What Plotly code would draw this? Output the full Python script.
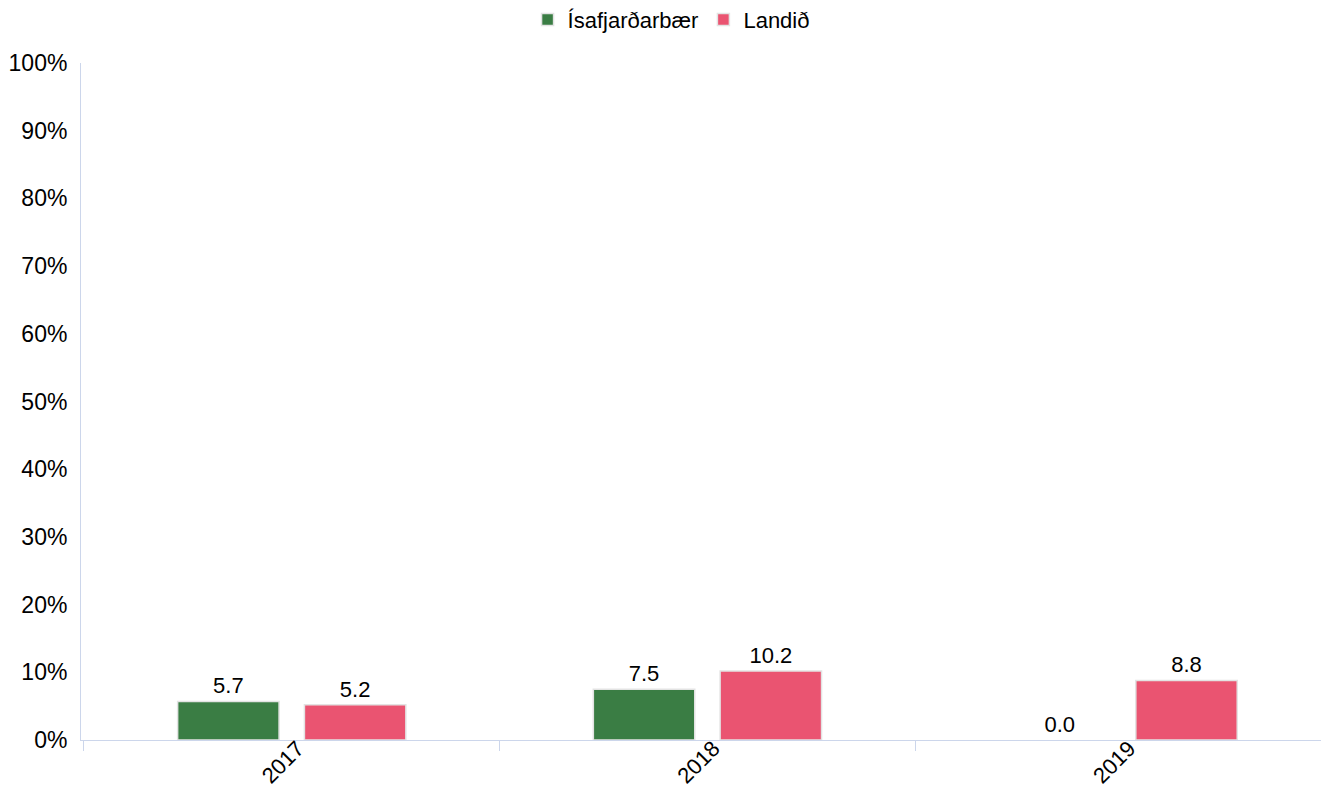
import plotly.graph_objects as go

years = ["2017", "2018", "2019"]
isafjordur = [5.7, 7.5, 0.0]
landid = [5.2, 10.2, 8.8]
y_ticks = [0, 10, 20, 30, 40, 50, 60, 70, 80, 90, 100]
y_tick_labels = [f"{v}%" for v in y_ticks]

font_family = "Liberation Sans, Arial, sans-serif"


def border_widths(values):
    return [1.5 if v > 0 else 0 for v in values]


fig = go.Figure()
fig.add_trace(go.Bar(
    name="Ísafjarðarbær", x=years, y=isafjordur,
    marker=dict(color="#3a7d44", line=dict(color="#e3e3e3", width=border_widths(isafjordur))),
    text=[f"{v:.1f}" for v in isafjordur], textposition="outside",
    textfont=dict(size=22, color="#000000"), cliponaxis=False,
))
fig.add_trace(go.Bar(
    name="Landið", x=years, y=landid,
    marker=dict(color="#ea5471", line=dict(color="#e3e3e3", width=border_widths(landid))),
    text=[f"{v:.1f}" for v in landid], textposition="outside",
    textfont=dict(size=22, color="#000000"), cliponaxis=False,
))

fig.update_layout(
    width=1321, height=787,
    margin=dict(l=81, r=0, t=63, b=47, autoexpand=False),
    plot_bgcolor="white", paper_bgcolor="white",
    font=dict(family=font_family, size=23, color="#000000"),
    barmode="group", bargap=0.39, bargroupgap=0.2,
    showlegend=True,
    legend=dict(orientation="h", xref="container", x=0.508, xanchor="center",
                yref="container", y=0.975, yanchor="middle",
                font=dict(size=22), traceorder="normal"),
    xaxis=dict(
        type="category", range=[-0.507, 2.476], tickson="boundaries",
        ticks="outside", ticklen=10,
        tickcolor="#ccd6eb", showline=True, linecolor="#ccd6eb", linewidth=1,
        showgrid=False, tickangle=-45, tickfont=dict(size=22), automargin=False,
        ticklabelstandoff=-14, ticklabelshift=6,
    ),
    yaxis=dict(
        range=[0, 100], tickmode="array", tickvals=y_ticks, ticktext=y_tick_labels,
        showgrid=False, showline=True, linecolor="#ccd6eb", linewidth=1,
        zeroline=False, tickfont=dict(size=23), automargin=False,
        ticks="outside", ticklen=8, tickcolor="rgba(0,0,0,0)",
    ),
)

fig.write_html("out.html", config={"displayModeBar": False},
               post_script="document.body.style.margin='0';")
